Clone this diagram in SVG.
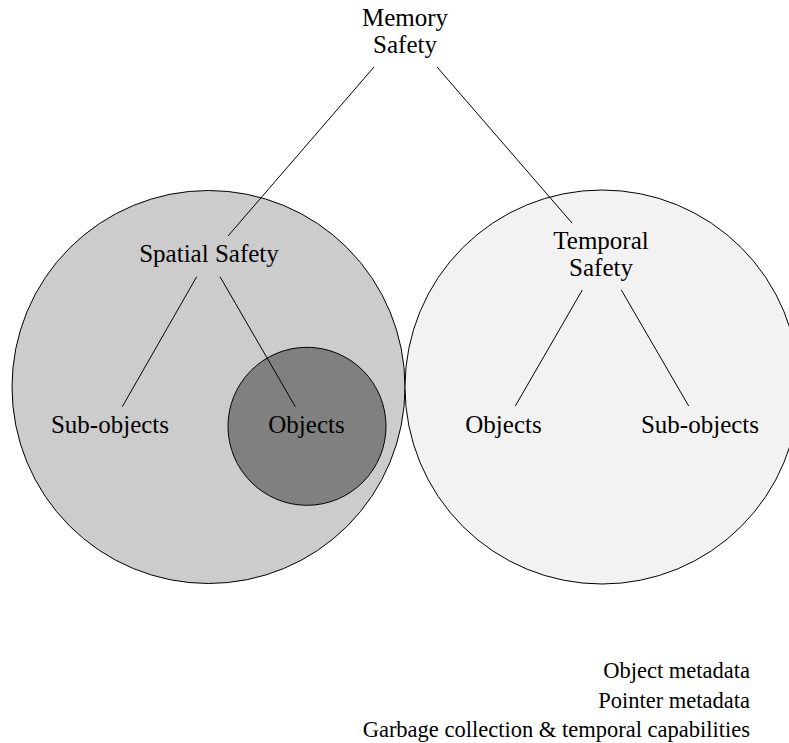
<svg xmlns="http://www.w3.org/2000/svg" width="789" height="743" viewBox="0 0 789 743">
<style>
text{font-family:"Liberation Serif","Times New Roman",serif;fill:#000;}
.n{font-size:25px;text-anchor:middle;}
.lg{font-size:22.5px;text-anchor:end;}
.c{stroke:#000;stroke-width:1;}
line{stroke:#000;stroke-width:1;}
</style>
<rect width="789" height="743" fill="#fff"/>
<g id="spatial-region"><circle class="c" cx="208.5" cy="387" r="196.5" fill="#cccccc"/></g>
<g id="temporal-region"><circle class="c" cx="602" cy="387" r="197" fill="#f2f2f2"/></g>
<g id="objects-region"><circle class="c" cx="307" cy="426.3" r="79" fill="#808080"/></g>
<g id="connectors">
<line x1="374" y1="67" x2="228" y2="236"/>
<line x1="437" y1="67" x2="572" y2="223"/>
<line x1="196.7" y1="276.7" x2="122.3" y2="406.7"/>
<line x1="220" y1="276.7" x2="295.3" y2="406.7"/>
<line x1="582.3" y1="290" x2="515.3" y2="406"/>
<line x1="621.3" y1="290" x2="688.7" y2="406"/>
</g>
<g id="memory-safety"><text class="n" x="405" y="26">Memory</text><text class="n" x="405" y="53">Safety</text></g>
<g id="spatial-safety"><text class="n" x="209" y="262">Spatial Safety</text></g>
<g id="temporal-safety"><text class="n" x="601" y="249">Temporal</text><text class="n" x="601" y="276">Safety</text></g>
<g id="spatial-subobjects"><text class="n" x="110" y="433">Sub-objects</text></g>
<g id="spatial-objects"><text class="n" x="306.5" y="433">Objects</text></g>
<g id="temporal-objects"><text class="n" x="503.5" y="433">Objects</text></g>
<g id="temporal-subobjects"><text class="n" x="700" y="433">Sub-objects</text></g>
<g id="legend">
<text class="lg" x="750" y="677.5">Object metadata</text>
<text class="lg" x="750" y="708">Pointer metadata</text>
<text class="lg" x="750" y="737">Garbage collection &amp; temporal capabilities</text>
</g>
</svg>
